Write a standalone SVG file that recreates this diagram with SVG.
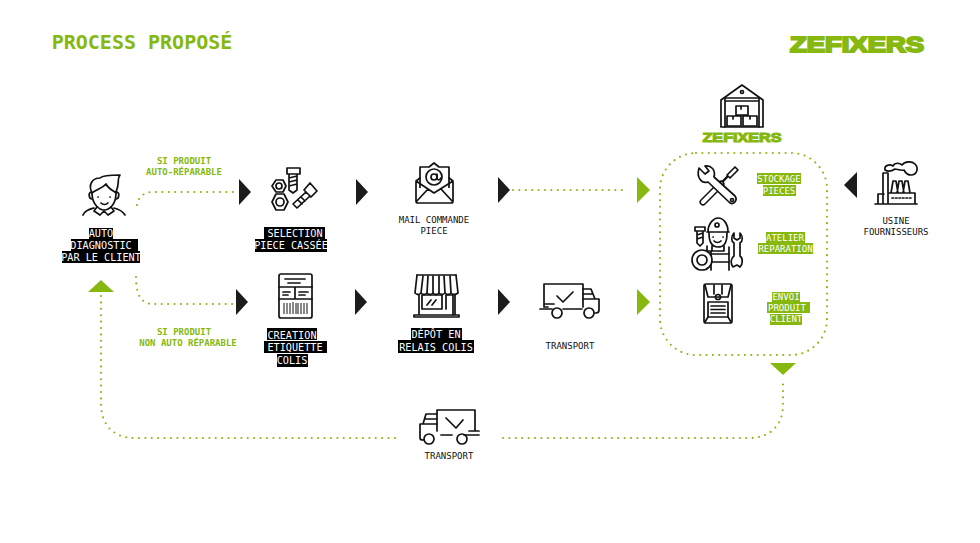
<svg xmlns="http://www.w3.org/2000/svg" width="980" height="543" viewBox="0 0 980 543">
<style>
text{font-family:"DejaVu Sans Mono","Liberation Mono",monospace;text-anchor:middle}
.t9{font-size:9px;fill:#111}
.w{font-size:10.2px;fill:#fff}
.g{font-size:9px;fill:#fff}
.lg{font-size:9px;font-weight:700;fill:#86b80f}
.bk{fill:#000}
.gb{fill:#86b80f}
.logo{font-family:"Liberation Sans",Arial,sans-serif;font-weight:700;fill:#86b80f;stroke:#86b80f;text-anchor:start}
.i{fill:none;stroke:#111;stroke-width:1.7;stroke-linecap:round;stroke-linejoin:round}
.f{fill:#fff;stroke:#111;stroke-width:1.7;stroke-linejoin:round}
.s{fill:none;stroke:#111;stroke-width:1;stroke-linecap:butt}
.d{fill:none;stroke:#86b80f;stroke-width:2.1;stroke-linecap:round;stroke-dasharray:0 6.4}
.ab{fill:#1c1c1c}
.ag{fill:#86b80f}
</style>
<rect width="980" height="543" fill="#fff"/>
<text id="title" x="142" y="49" style="font-size:20px;font-weight:700;fill:#86b80f">PROCESS PROPOSÉ</text>
<text id="logo" class="logo" x="790" y="51.500" font-size="22" stroke-width="2" textLength="134" lengthAdjust="spacingAndGlyphs">ZEFIXERS</text>

<g id="connectors">
<path class="d" d="M137 205C138 197 144 192 153 192H236"/>
<path class="d" d="M136 277C136 296 142 304 153 304H235"/>
<path class="d" d="M513 190H624"/>
<path class="d" d="M101 296V403C101 425 113 438 135 438H400"/>
<path class="d" d="M503 438H750C770 438 783 425 783 405V381"/>
<rect class="d" x="660" y="153" width="167" height="202" rx="36"/>
<path class="ab" d="M239 179L251 192L239 205Z"/>
<path class="ab" d="M236 289L248 302L236 315Z"/>
<path class="ab" d="M356 179L368 192L356 205Z"/>
<path class="ab" d="M355 289L367 302L355 315Z"/>
<path class="ab" d="M498 177L510 190L498 203Z"/>
<path class="ab" d="M498 289L510 302L498 315Z"/>
<path class="ab" d="M857 172L844 185L857 198Z"/>
<path class="ag" d="M637 177L650 190L637 203Z"/>
<path class="ag" d="M637 289L650 302L637 315Z"/>
<path class="ag" d="M770 363H796L783 375Z"/>
<path class="ag" d="M88 292H114L101 280Z"/>
</g>

<g id="edge-labels">
<text class="lg" x="184" y="164">SI PRODUIT</text>
<text class="lg" x="184" y="175">AUTO-RÉPARABLE</text>
<text class="lg" x="184" y="335">SI PRODUIT</text>
<text class="lg" x="188" y="346">NON AUTO RÉPARABLE</text>
</g>

<g id="client">
<path class="i" d="M92 193C92 205 100 210 104 210C109 210 116 205 116 193"/>
<path class="i" d="M92 193C88 185 92 178 100 178C103 175 112 175 120 175C117 179 119 181 118 184C118 188 116 190 116 193C112 190 108 188 106 184C102 189 96 189 92 193Z"/>
<path class="i" d="M91 192C88 193 89 199 92 199M117 192C120 193 119 199 116 199"/>
<path class="i" d="M98 197H98.200M110 197H110.200M101 203C103 205 106 205 108 203"/>
<path class="i" d="M97 207L94 211L100 215L104 211L108 215L114 211L111 207M83 215C85 210 90 209 94 208M125 215C122 210 118 209 114 208"/>
<rect class="bk" x="89" y="228" width="24" height="11"/>
<rect class="bk" x="71" y="239" width="67" height="12"/>
<rect class="bk" x="62" y="251" width="78" height="12"/>
<text class="w" x="101" y="237">AUTO</text>
<text class="w" x="101" y="249">DIAGNOSTIC</text>
<text class="w" x="101" y="261">PAR LE CLIENT</text>
</g>

<g id="selection">
<path class="i" d="M287 168H300V174H287ZM289 174V190L293 193L297 190V174M289 178L297 176M289 182L297 180M289 186L297 184"/>
<path class="i" d="M276 180H283L286 186L283 192H276L272 186Z"/>
<circle class="i" cx="279" cy="186" r="3"/>
<path class="i" d="M276 194H284L288 202L284 210H276L272 202Z"/>
<circle class="i" cx="280" cy="202" r="4"/>
<path class="i" d="M310 183L317 191L311 197L304 190ZM306 192L293 204L297 208L310 196M301 197L305 201M298 200L302 204"/>
<rect class="bk" x="264" y="227" width="61" height="12"/>
<rect class="bk" x="255" y="239" width="72" height="13"/>
<text class="w" x="295" y="237">SELECTION</text>
<text class="w" x="291" y="249">PIECE CASSÉE</text>
</g>

<g id="etiquette">
<rect class="i" x="279" y="274" width="33" height="44" rx="2"/>
<path class="i" d="M279 287H312M295 287V299M279 299H312M285 279H305M288 283H300M283 292H290M283 295H288M299 292H308M299 295H305"/>
<path class="s" d="M284 303V314M287 303V314M290 303V314M293 302V314M296 303V314M298 303V314M301 303V314M304 303V314M307 303V314"/>
<rect class="bk" x="267" y="328" width="50" height="12"/>
<rect class="bk" x="264" y="341" width="63" height="12"/>
<rect class="bk" x="277" y="354" width="31" height="13"/>
<text class="w" x="292" y="339">CREATION</text>
<text class="w" x="295" y="351">ETIQUETTE</text>
<text class="w" x="292" y="364">COLIS</text>
</g>

<g id="mail">
<path class="f" d="M420 188V167H429L434 163L439 167H449V188"/>
<path class="i" d="M420 178L416 181V201Q416 203 418 203H451Q453 203 453 201V181L449 178M416 181L434 193L453 181M416 202L428 189M453 202L441 189"/>
<circle class="i" cx="434" cy="177" r="8"/>
<circle class="i" cx="434" cy="177" r="3"/>
<path class="i" d="M437 174V179Q439 181 441 178"/>
<text class="t9" x="434" y="223">MAIL COMMANDE</text>
<text class="t9" x="434" y="234">PIECE</text>
</g>

<g id="depot">
<path class="i" d="M417 275H456M419 295V315M455 295V315M414 315H459V317H414Z"/>
<path class="i" d="M417 275L415 293Q418 296 421 293Q424 296 427 293Q430 296 433 293Q436 296 439 293Q442 296 445 293Q448 296 451 293Q454 296 458 293L456 275M423 276L421 293M428 276L427 293M433 276L433 293M439 276L439 293M444 276L445 293M450 276L451 293"/>
<rect class="i" x="422" y="295" width="20" height="14"/>
<path class="i" d="M446 309V295H453V315M427 305L431 300M432 305L436 300"/>
<rect class="bk" x="411" y="328" width="51" height="12"/>
<rect class="bk" x="398" y="340" width="76" height="13"/>
<text class="w" x="436" y="338">DÉPÔT EN</text>
<text class="w" x="436" y="351">RELAIS COLIS</text>
</g>

<g id="transport1">
<path class="i" d="M548 307H544V284H583V307M563 309H582M540 309H552M544 304H554"/>
<path class="i" d="M583 289H591L595 299H599V310Q599 313 596 313H595M583 299H595M583 294H592"/>
<circle class="i" cx="557" cy="313" r="5"/>
<circle class="i" cx="589" cy="313" r="5"/>
<path class="i" d="M557 296L563 302L573 292"/>
<text class="t9" x="570" y="349">TRANSPORT</text>
</g>

<g id="zefixers-depot">
<path class="i" d="M721 127V100L742 85L763 100V127M721 127H763"/>
<path class="i" d="M725 127V98H759V127M725 101H759"/>
<circle class="i" cx="742" cy="92" r="1.500"/>
<path class="i" d="M736 106H748V115H736ZM727 116H741V126H727ZM743 116H757V126H743ZM741 106V109M733 116V119M750 116V119"/>
<text class="logo" x="702.500" y="141.500" font-size="13.500" stroke-width="1.200" textLength="79" lengthAdjust="spacingAndGlyphs">ZEFIXERS</text>
</g>

<g id="stockage">
<path d="M704 201L728 176" stroke="#111" stroke-width="2.500" fill="none"/>
<path class="f" d="M727 175L735 167L738 170L730 178Z"/>
<path d="M703 202L721 184" stroke="#111" stroke-width="7" stroke-linecap="round"/>
<path d="M703 202L721 184" stroke="#fff" stroke-width="4" stroke-linecap="round"/>
<path class="f" d="M699 168L705 174L709 171L705 166C711 165 716 170 714 177L735 196C738 200 734 205 730 203L708 182C702 184 696 178 699 168Z"/>
<circle class="i" cx="732" cy="200" r="1.500"/>
<rect class="gb" x="757" y="173" width="44" height="11"/>
<rect class="gb" x="763" y="185" width="33" height="11"/>
<text class="g" x="779" y="182">STOCKAGE</text>
<text class="g" x="779" y="194">PIECES</text>
</g>

<g id="atelier">
<path class="i" d="M708 232C708 223 714 218 718 218C723 218 728 223 728 232ZM707 232H729M709 233C709 245 714 247 718 247C723 247 727 245 727 233"/>
<circle class="i" cx="717" cy="225" r="2"/>
<path class="i" d="M714 241C716 243 719 243 721 241M713 237H713.200M723 237H723.200"/>
<path class="i" d="M695 227H705V231H695ZM697 231V243L700 246L703 243V231M697 235L703 233M697 239L703 237"/>
<path class="i" d="M707 246V251H711V270M729 247V270M711 254H728M711 262H729M712 246V251H724V246"/>
<circle class="f" cx="702" cy="260" r="10"/>
<circle class="i" cx="702" cy="260" r="5"/>
<path class="f" d="M734 233V238L737 240L740 238V233C743 236 743 241 740 243V256C743 258 743 264 740 267L737 265L733 267C730 263 731 258 734 256V243C731 241 731 236 734 233Z"/>
<rect class="gb" x="766" y="232" width="39" height="11"/>
<rect class="gb" x="758" y="243" width="55" height="11"/>
<text class="g" x="785" y="241">ATELIER</text>
<text class="g" x="785.500" y="252">REPARATION</text>
</g>

<g id="envoi">
<rect class="i" x="704" y="284" width="28" height="39" rx="2"/>
<path class="i" d="M705 285L708 297H728L731 285M708 317L705 322M728 317L731 322"/>
<circle class="i" cx="718" cy="297" r="2.500"/>
<path class="i" d="M714 285V294M722 285V294"/>
<rect class="i" x="708" y="302" width="20" height="15"/>
<path class="i" d="M711 306H725M711 309.500H725M711 313H725"/>
<rect class="gb" x="772" y="292" width="28" height="10"/>
<rect class="gb" x="767" y="302" width="43" height="11"/>
<rect class="gb" x="770" y="314" width="32" height="11"/>
<text class="g" x="786" y="300">ENVOI</text>
<text class="g" x="787" y="311">PRODUIT</text>
<text class="g" x="786" y="322">CLIENT</text>
</g>

<g id="usine">
<path class="i" d="M875 204H917M883 203V173H888V203M878 203V194H884M888 193H915V203M891 193L893 181H896L898 193M897 193L899 181H902L904 193M903 193L905 181H908L910 193"/>
<path class="i" d="M885 170C884 165 890 164 893 166C895 162 900 163 902 165C905 161 912 161 915 164C919 168 917 175 911 175C907 175 905 172 904 170C901 171 897 169 895 169C892 171 888 172 885 170"/>
<path class="i" d="M892 198H911" stroke-dasharray="1.500 2" stroke-linecap="butt"/>
<text class="t9" x="896" y="224">USINE</text>
<text class="t9" x="896" y="235">FOURNISSEURS</text>
</g>

<g id="transport2">
<path class="i" d="M437 431V410H475V431M469 431H479M464 435H479M441 435H452"/>
<path class="i" d="M446 418L456 428L463 420"/>
<path class="i" d="M437 414H426L423 424H420V438Q420 440 423 440H424M437 424H423M437 419H425"/>
<circle class="i" cx="429" cy="439" r="5"/>
<circle class="i" cx="462" cy="439" r="5"/>
<text class="t9" x="449" y="459">TRANSPORT</text>
</g>
</svg>
